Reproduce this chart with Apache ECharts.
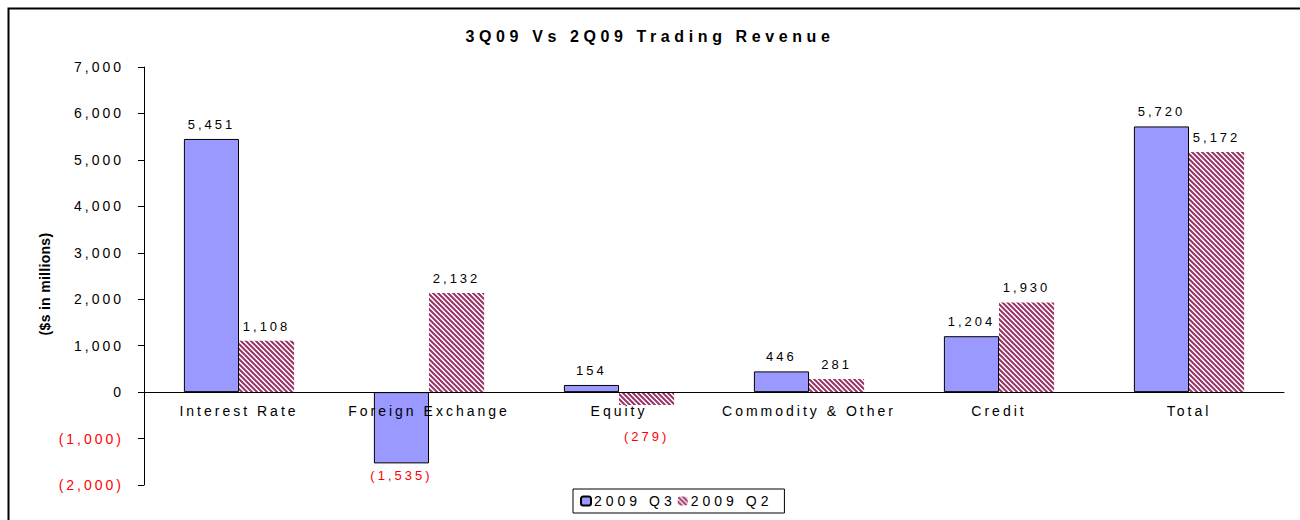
<!DOCTYPE html>
<html>
<head>
<meta charset="utf-8">
<script src="https://cdn.jsdelivr.net/npm/echarts@6/dist/echarts.min.js"></script>
<style>
    html, body { margin: 0; padding: 0; background: #fff; }
    #chart { width: 1300px; height: 520px; letter-spacing: 3px; }
</style>
</head>
<body>
<div id="chart"></div>
<script>
let categories = ['Interest Rate', 'Foreign Exchange', 'Equity', 'Commodity & Other', 'Credit', 'Total'];
let q3Values = [5451, -1535, 154, 446, 1204, 5720];
let q2Values = [1108, 2132, -279, 281, 1930, 5172];
let seriesNames = ['2009 Q3', '2009 Q2'];
let yMin = -2000, yMax = 7000;

let font = '"Liberation Sans", Arial, sans-serif';
let gridTop = 67, gridBottom = 35, chartHeight = 520;

function fmt(v) {
    let s = Math.abs(v).toLocaleString('en-US');
    return v < 0 ? '(' + s + ')' : s;
}

// striped tile for the Q2 bars
function stripeTile() {
    let c = document.createElement('canvas');
    c.width = 10;
    c.height = 10;
    let ctx = c.getContext('2d');
    ctx.fillStyle = '#fff';
    ctx.fillRect(0, 0, 10, 10);
    ctx.strokeStyle = '#993366';
    ctx.lineWidth = 2;
    for (let k = -20; k <= 20; k += 5) {
        ctx.beginPath();
        ctx.moveTo(-10, -10 + k);
        ctx.lineTo(20, 20 + k);
        ctx.stroke();
    }
    return c.toDataURL();
}

function toData(values, negDistance) {
    return values.map(function (v, i) {
        if (v >= 0) return v;
        return {
            value: v,
            label: { position: 'bottom', color: '#ff0000', distance: negDistance[i] || 6 }
        };
    });
}

// move category axis up to the zero line
let gridHeight = chartHeight - gridTop - gridBottom;
let zeroOffset = -gridHeight * (0 - yMin) / (yMax - yMin);

let chart = echarts.init(document.getElementById('chart'), null, { renderer: 'svg' });

let option = {
    animation: false,
    textStyle: { fontFamily: font },
    title: {
        text: '3Q09 Vs 2Q09 Trading Revenue',
        left: 'center',
        top: 23,
        textStyle: { fontFamily: font, fontSize: 16, fontWeight: 'bold', color: '#000' }
    },
    graphic: [{
        type: 'rect',
        left: 6,
        top: 6,
        shape: { width: 1400, height: 600 },
        style: { fill: 'none', stroke: '#000', lineWidth: 2 },
        silent: true
    }],
    legend: {
        data: seriesNames,
        left: 573,
        top: 489,
        // spaced-out text is wider than ECharts measures, so gap and right padding make room
        padding: [5, 40, 5, 7],
        itemGap: 30,
        itemWidth: 10,
        itemHeight: 9,
        borderColor: '#000',
        borderWidth: 1,
        borderRadius: 0,
        textStyle: { fontFamily: font, fontSize: 14, color: '#000', padding: [0, 0, 0, -2] }
    },
    grid: { left: 144, right: 16, top: gridTop, bottom: gridBottom },
    xAxis: {
        type: 'category',
        data: categories,
        z: 5,
        offset: zeroOffset,
        axisLine: { onZero: false, lineStyle: { color: '#000', width: 1 } },
        axisTick: { length: 5, lineStyle: { color: '#000' } },
        axisLabel: { margin: 12, fontSize: 14, color: '#000', fontFamily: font }
    },
    yAxis: {
        type: 'value',
        min: yMin,
        max: yMax,
        interval: 1000,
        name: '($s in millions)',
        nameLocation: 'middle',
        nameGap: 92,
        nameTextStyle: { fontFamily: font, fontSize: 14, fontWeight: 'bold', color: '#000', padding: [0, 16, 0, 0] },
        splitLine: { show: false },
        axisLine: { show: true, lineStyle: { color: '#000', width: 1 } },
        axisTick: { show: true, length: 6, lineStyle: { color: '#000' } },
        axisLabel: {
            margin: 20,
            fontSize: 14,
            fontFamily: font,
            formatter: fmt,
            color: function (v) { return v < 0 ? '#ff0000' : '#000'; }
        }
    },
    series: [
        {
            name: seriesNames[0],
            type: 'bar',
            data: toData(q3Values, {}),
            barGap: '0%',
            barCategoryGap: '42%',
            itemStyle: { color: '#9999ff', borderColor: '#000', borderWidth: 1 },
            label: {
                show: true,
                position: 'top',
                distance: 8,
                fontSize: 13,
                fontFamily: font,
                color: '#000',
                formatter: function (p) { return fmt(p.value); }
            }
        },
        {
            name: seriesNames[1],
            type: 'bar',
            data: toData(q2Values, { 2: 25 }),
            barGap: '0%',
            barCategoryGap: '42%',
            itemStyle: {
                color: { image: stripeTile(), repeat: 'repeat', imageWidth: 10, imageHeight: 10 }
            },
            label: {
                show: true,
                position: 'top',
                distance: 8,
                fontSize: 13,
                fontFamily: font,
                color: '#000',
                formatter: function (p) { return fmt(p.value); }
            }
        }
    ]
};

chart.setOption(option);

// Excel-style spacing: wider on the title and legend, tight on the axis name
function fixSpacing() {
    document.querySelectorAll('#chart svg text').forEach(function (t) {
        let s = t.textContent;
        if (s === '($s in millions)') t.style.letterSpacing = '0.3px';
        if (s === '3Q09 Vs 2Q09 Trading Revenue') t.style.letterSpacing = '4.6px';
        if (seriesNames.indexOf(s) >= 0) t.style.letterSpacing = '4px';
    });
}
fixSpacing();
chart.on('finished', fixSpacing);
</script>
</body>
</html>
